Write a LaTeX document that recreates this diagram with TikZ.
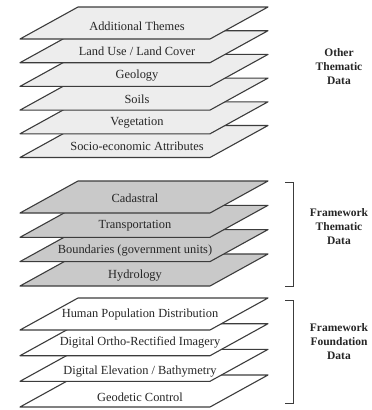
\documentclass[tikz,border=0pt]{standalone}
\usepackage{fontspec}
\setmainfont{Liberation Serif}
\definecolor{topfill}{HTML}{EDEDED}
\definecolor{midfill}{HTML}{C9C9C9}
\definecolor{botfill}{HTML}{FFFFFF}
\definecolor{edge}{HTML}{3C3C3C}
\tikzset{
  layer/.style={draw=edge, line width=1.1pt, line join=round},
  lbl/.style={font=\fontsize{12.4}{14}\selectfont, inner sep=0pt, text=black!85},
  grp/.style={font=\bfseries\fontsize{11.5}{14}\selectfont, align=center, inner sep=0pt, text=black!85},
  brk/.style={draw=edge, line width=1pt}
}
\newcommand\drawlayer[2]{\path[layer, fill=#2] (20,#1) -- (210,#1) -- (268,#1-32) -- (78,#1-32) -- cycle;}
\begin{document}
\begin{tikzpicture}[x=1pt, y=-1pt]
\useasboundingbox[fill=white] (0,0) rectangle (372,410);
% Other thematic data (bottom layer first)
\foreach \yb/\t/\dy [count=\i] in {157.5/{Socio-economic Attributes}/11, 133.8/{Vegetation}/11, 110.1/{Soils}/11, 86.4/{Geology}/11, 62.7/{Land Use / Land Cover}/11, 39/{Additional Themes}/13}{
  \drawlayer{\yb}{topfill}
  \node[lbl] (o\i) at (137,\yb-\dy) {\t};
}
% Framework thematic data
\foreach \yb/\t/\dy [count=\i] in {286/{Hydrology}/10, 261.6/{Boundaries (government units)}/11, 237.3/{Transportation}/12, 213/{Cadastral}/15}{
  \drawlayer{\yb}{midfill}
  \node[lbl] (m\i) at (135,\yb-\dy) {\t};
}
% Framework foundation data
\foreach \yb/\t/\dy [count=\i] in {407/{Geodetic Control}/10, 381.3/{Digital Elevation / Bathymetry}/10, 355.7/{Digital Ortho-Rectified Imagery}/13, 330/{Human Population Distribution}/15}{
  \drawlayer{\yb}{botfill}
  \node[lbl] (f\i) at (140,\yb-\dy) {\t};
}
% brackets
\coordinate (b1a) at (285,182); \coordinate (b1b) at (293,182);
\coordinate (b1c) at (293,286); \coordinate (b1d) at (285,286);
\draw[brk] (b1a) -- (b1b) -- (b1c) -- (b1d);
\coordinate (b2a) at (285,300); \coordinate (b2b) at (293,300);
\coordinate (b2c) at (293,403); \coordinate (b2d) at (285,403);
\draw[brk] (b2a) -- (b2b) -- (b2c) -- (b2d);
% group labels
\node[grp] (g1) at (339,67) {Other\\Thematic\\Data};
\node[grp] (g2) at (339,227) {Framework\\Thematic\\Data};
\node[grp] (g3) at (339,342) {Framework\\Foundation\\Data};
\end{tikzpicture}
\end{document}
